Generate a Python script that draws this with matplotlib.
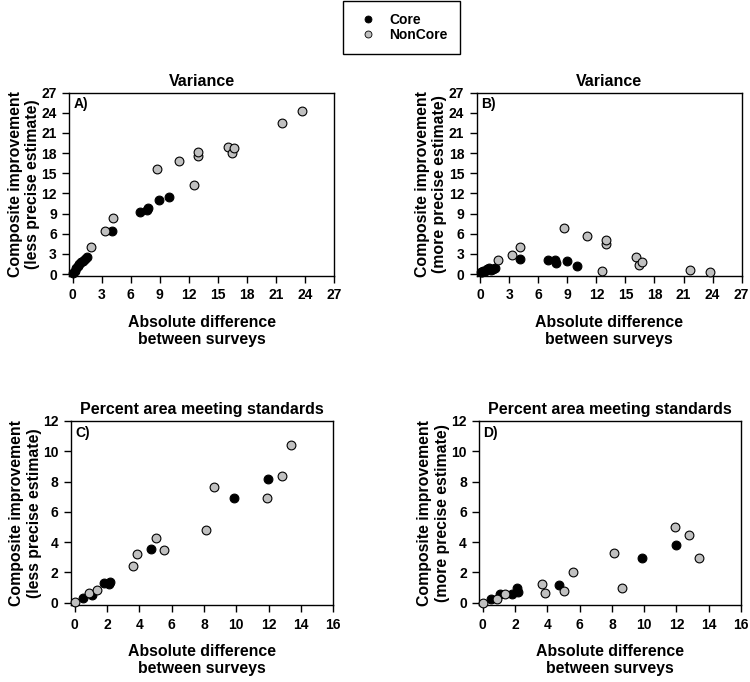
import matplotlib
matplotlib.use("Agg")
import matplotlib.pyplot as plt
from matplotlib.lines import Line2D

plt.rcParams['font.family'] = 'Liberation Sans'
plt.rcParams['font.weight'] = 'bold'
plt.rcParams['axes.labelweight'] = 'bold'
plt.rcParams['axes.titleweight'] = 'bold'

# Variance panels (A, B): shared x values
var_core_x = [0.05, 0.2, 0.35, 0.5, 0.7, 0.9, 1.1, 1.3, 1.5, 4.07, 6.97, 7.7, 7.8, 8.97, 10.0]
var_core_less = [0.2, 0.5, 0.9, 1.2, 1.5, 1.8, 2.0, 2.3, 2.5, 6.4, 9.3, 9.5, 9.9, 11.05, 11.4]
var_core_more = [0.25, 0.35, 0.4, 0.5, 0.7, 0.9, 0.6, 0.8, 0.9, 2.3, 2.15, 2.1, 1.7, 1.9, 1.2]

var_non_x = [1.85, 3.3, 4.15, 8.7, 11.0, 12.55, 12.95, 12.95, 16.05, 16.45, 16.7, 21.65, 23.7]
var_non_less = [4.0, 6.4, 8.4, 15.7, 16.9, 13.25, 17.55, 18.1, 18.9, 18.0, 18.8, 22.55, 24.3]
var_non_more = [2.1, 2.9, 4.1, 6.8, 5.7, 0.5, 4.4, 5.05, 2.55, 1.4, 1.8, 0.6, 0.3]

# Percent area panels (C, D): shared x values
pct_core_x = [0.52, 1.07, 1.8, 2.13, 2.17, 4.71, 9.88, 11.98]
pct_core_less = [0.29, 0.51, 1.27, 1.22, 1.4, 3.53, 6.91, 8.18]
pct_core_more = [0.24, 0.56, 0.58, 0.96, 0.73, 1.18, 2.96, 3.78]

pct_non_x = [0.0, 0.89, 1.38, 3.64, 3.84, 5.04, 5.56, 8.1, 8.6, 11.9, 12.8, 13.4]
pct_non_less = [0.05, 0.67, 0.82, 2.4, 3.2, 4.29, 3.49, 4.82, 7.67, 6.9, 8.36, 10.44]
pct_non_more = [0.0, 0.24, 0.58, 1.22, 0.64, 0.78, 2.04, 3.31, 0.96, 5.02, 4.44, 2.96]

var_ticks = list(range(0, 28, 3))
pct_ticks = list(range(0, 17, 2))
pct_yticks = list(range(0, 13, 2))

core_color = 'black'
non_color = '#c0c0c0'

fig = plt.figure(figsize=(7.5, 6.82), dpi=100)

panels = [
    # rect, title, letter, x core, y core, x non, y non, xticks, yticks, xlim, ylim, ylabel
    ([0.0924, 0.5957, 0.3529, 0.2684], 'Variance', 'A)', var_core_x, var_core_less, var_non_x, var_non_less,
     var_ticks, var_ticks, (-0.35, 27), (-0.25, 27), 'Composite improvement\n(less precise estimate)'),
    ([0.6356, 0.5957, 0.3533, 0.2684], 'Variance', 'B)', var_core_x, var_core_more, var_non_x, var_non_more,
     var_ticks, var_ticks, (-0.35, 27), (-0.25, 27), 'Composite improvement\n(more precise estimate)'),
    ([0.0947, 0.1129, 0.3497, 0.2698], 'Percent area meeting standards', 'C)', pct_core_x, pct_core_less,
     pct_non_x, pct_non_less, pct_ticks, pct_yticks, (-0.22, 16), (-0.15, 12),
     'Composite improvement\n(less precise estimate)'),
    ([0.6390, 0.1129, 0.3490, 0.2698], 'Percent area meeting standards', 'D)', pct_core_x, pct_core_more,
     pct_non_x, pct_non_more, pct_ticks, pct_yticks, (-0.22, 16), (-0.15, 12),
     'Composite improvement\n(more precise estimate)'),
]

for rect, title, letter, cx, cy, nx, ny, xt, yt, xl, yl, ylab in panels:
    ax = fig.add_axes(rect)
    ax.scatter(cx, cy, s=40, facecolor=core_color, edgecolor='black', linewidth=0.8, zorder=3, clip_on=False)
    ax.scatter(nx, ny, s=40, facecolor=non_color, edgecolor='black', linewidth=0.8, zorder=3, clip_on=False)
    ax.set_xlim(*xl)
    ax.set_ylim(*yl)
    ax.set_xticks(xt)
    ax.set_yticks(yt)
    ax.tick_params(direction='out', length=5, width=1, labelsize=10, pad=4)
    for sp in ax.spines.values():
        sp.set_linewidth(1)
    ax.set_title(title, fontsize=11.5, pad=5)
    ax.set_xlabel('Absolute difference\nbetween surveys', fontsize=11.4, labelpad=9)
    ax.set_ylabel(ylab, fontsize=11.4, labelpad=1)
    ax.text(0.015, 0.975, letter, transform=ax.transAxes, ha='left', va='top', fontsize=10)

handles = [
    Line2D([], [], linestyle='none', marker='o', markersize=5, markerfacecolor=core_color,
           markeredgecolor='black', markeredgewidth=0.6, label='Core'),
    Line2D([], [], linestyle='none', marker='o', markersize=5, markerfacecolor=non_color,
           markeredgecolor='black', markeredgewidth=0.6, label='NonCore'),
]
leg = fig.legend(handles=handles, loc='upper left', bbox_to_anchor=(343 / 750, 1 - 1 / 682),
                 borderaxespad=0, fancybox=False, edgecolor='black', framealpha=1, fontsize=10,
                 borderpad=0.85, handlelength=1.9, handletextpad=0.6, labelspacing=0.1)
leg.get_frame().set_linewidth(1)

fig.savefig('out.png', dpi=100)
